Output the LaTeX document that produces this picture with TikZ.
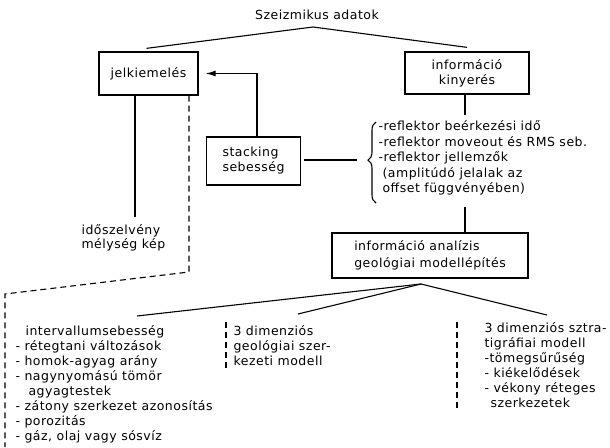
\documentclass[tikz,border=0pt]{standalone}
\usepackage{fontspec}
\setmainfont[LetterSpace=4]{DejaVu Sans}
\usetikzlibrary{decorations.pathreplacing,arrows.meta,calc}
\begin{document}
\begin{tikzpicture}[x=1pt,y=-1pt, line width=1.1pt,
  every node/.style={font=\fontsize{12.5}{15}\selectfont, inner sep=0pt},
  box/.style={draw, line width=1.3pt},
  sep/.style={dash pattern=on 6pt off 4pt}]
\useasboundingbox (0,0) rectangle (610,447);
% top
\node (title) at (317,15) {Szeizmikus adatok};
\coordinate (apex) at (313,27);
\node[box, minimum width=99pt, minimum height=43pt] (jel) at (148.5,73.5) {jelkiemelés};
\node[box, minimum width=124pt, minimum height=42pt, align=center] (kin) at (467,73) {információ\\kinyerés};
\draw (apex) -- ([xshift=-2pt,yshift=3pt]jel.north);
\draw (apex) -- ([yshift=4pt]kin.north);
\draw ([xshift=-2pt]kin.south) -- ++(0,20);
% stacking
\node[box, minimum width=94pt, minimum height=48pt, align=left] (stack) at (253.5,161) {stacking\\sebesség};
\draw[-{Latex[length=10pt,width=6pt]}, shorten >=7pt] ([xshift=3.5pt]stack.north) |- (jel.east);
% brace and reflector list
\draw[decorate, decoration={brace, amplitude=8pt, aspect=0.53}] (376,203) -- (376,122);
\coordinate (btip) at (368,160);
\node[anchor=north west, align=left, font=\fontsize{12.5}{15.5}\selectfont] (refl) at (378,120)
  {-reflektor beérkezési idő\\-reflektor moveout és RMS seb.\\-reflektor jellemzők\\\hspace*{4pt}(amplitúdó jelalak az\\\hspace*{4pt}offset függvényében)};
\draw ([xshift=3pt]stack.east |- btip) -- ([xshift=-11pt]btip);
% left branch
\coordinate (s1) at (135,217);
\draw ([xshift=-13.5pt]jel.south) -- (s1);
\node[anchor=north west, align=left, font=\fontsize{12.5}{13.5}\selectfont] (ido) at (81,224) {időszelvény\\mélység kép};
\coordinate (d1) at (189,272);
\coordinate (d2) at (5,294);
\coordinate (d3) at (5,447);
\draw[sep] ([xshift=40.5pt]jel.south) -- (d1) -- (d2) -- (d3);
% analysis
\coordinate (bbot) at (465,207);
\node[box, minimum width=196pt, minimum height=45pt, align=left, font=\fontsize{12.5}{16.5}\selectfont] (ana) at (430,255.5) {információ analízis\\geológiai modellépítés};
\draw (bbot) -- ([xshift=35pt]ana.north);
\coordinate (apex2) at (421,284);
\coordinate (l1) at (137,316);
\coordinate (l2) at (298,314);
\coordinate (l3) at (547,315);
\draw (l1) -- (apex2) -- (l3);
\draw (apex2) -- (l2);
% columns
\node[anchor=north west, align=left] (lc) at (15,325)
  {\hspace*{10pt}intervallumsebesség\\- rétegtani változások\\- homok-agyag arány\\- nagynyomású tömör\\\hspace*{13pt}agyagtestek\\- zátony szerkezet azonosítás\\- porozitás\\- gáz, olaj vagy sósvíz};
\node[anchor=north west, align=left] (mc) at (233,325)
  {3 dimenziós\\geológiai szer-\\kezeti modell};
\node[anchor=north west, align=left] (rc) at (484,322)
  {3 dimenziós sztra-\\tigráfiai modell\\-tömegsűrűség\\- kiékelődések\\- vékony réteges\\\hspace*{6pt}szerkezetek};
\coordinate (m1) at (226,322);
\coordinate (m2) at (226,370);
\coordinate (r1) at (457,322);
\coordinate (r2) at (457,410);
\draw[sep] (m1) -- (m2);
\draw[sep] (r1) -- (r2);
\end{tikzpicture}
\end{document}
